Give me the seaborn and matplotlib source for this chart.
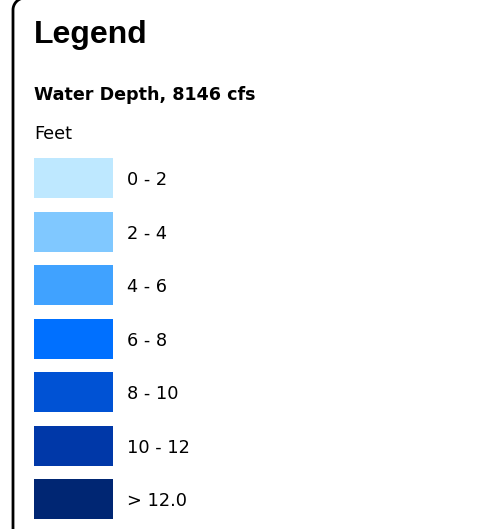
import matplotlib
matplotlib.use("Agg")
import matplotlib.pyplot as plt
import numpy as np
import seaborn as sns
import pandas as pd

# ---- data ----
title = "Legend"
layer_name = "Water Depth, 8146 cfs"
unit_label = "Feet"
class_labels = ["0 - 2", "2 - 4", "4 - 6", "6 - 8", "8 - 10", "10 - 12", "> 12.0"]
class_colors = ["#BEE8FF", "#80C8FF", "#40A2FF", "#0070FF", "#0052D4", "#0038A8", "#002673"]
swatch_extent = [1, 1, 1, 1, 1, 1, 1]

W, H = 491, 529
fig = plt.figure(figsize=(W / 100, H / 100), dpi=100)
fig.patch.set_facecolor("white")

def fx(px):
    return px / W

def fy(py):
    return 1 - py / H

# overlay axes in pixel units for the rounded frame
bg = fig.add_axes([0, 0, 1, 1])
bg.axis("off")
r = 12
left, right, topy = 13, 502, -2
t1 = np.linspace(np.pi, 1.5 * np.pi, 30)
t2 = np.linspace(1.5 * np.pi, 2 * np.pi, 30)
xs = np.concatenate([[left], left + r + r * np.cos(t1), right - r + r * np.cos(t2), [right]])
ys = np.concatenate([[H + 20], topy + r + r * np.sin(t1), topy + r + r * np.sin(t2), [H + 20]])
bg.plot(xs, ys, color="black", linewidth=2.0, clip_on=False, solid_joinstyle="round")
bg.set_xlim(0, W)
bg.set_ylim(H, 0)

fig.text(fx(34), fy(43), title, fontsize=23, fontweight="bold",
         family="Liberation Sans", ha="left", va="baseline")
fig.text(fx(34), fy(100), layer_name, fontsize=12.6, fontweight="bold",
         family="DejaVu Sans", ha="left", va="baseline")
fig.text(fx(34), fy(139), unit_label, fontsize=12.8,
         family="DejaVu Sans", ha="left", va="baseline")

# swatches
step = 53.58
top = 178 - step / 2
bottom = 499.5 + step / 2
ax = fig.add_axes([fx(34), fy(bottom), fx(113) - fx(34), (bottom - top) / H])
df = pd.DataFrame({"label": class_labels, "value": swatch_extent})
sns.barplot(data=df, x="value", y="label", hue="label", palette=class_colors,
            orient="h", width=40 / step, legend=False, ax=ax, saturation=1)
ax.set_xlim(0, 1)
ax.set_ylim(len(class_labels) - 0.5, -0.5)
ax.set_xlabel("")
ax.set_ylabel("")
ax.set_xticks([])
ax.yaxis.tick_right()
ax.tick_params(axis="y", length=0, pad=10, labelsize=12.8)
for t in ax.get_yticklabels():
    t.set_family("DejaVu Sans")
for s in ax.spines.values():
    s.set_visible(False)
ax.set_facecolor("none")

fig.savefig("out.png", dpi=100, facecolor="white")
